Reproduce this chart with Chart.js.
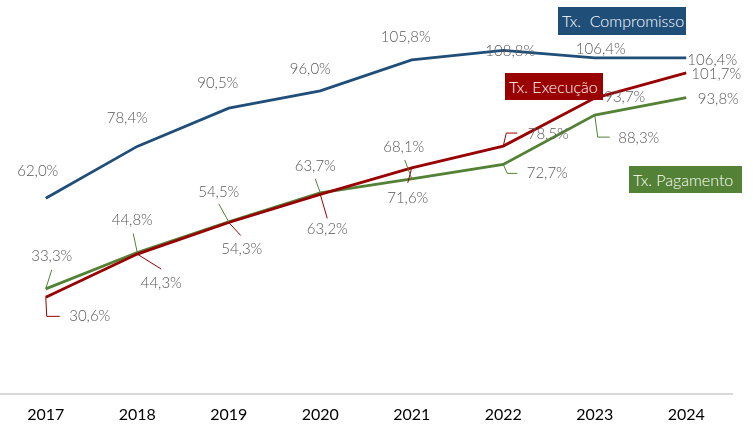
<!DOCTYPE html>
<html>
<head>
<meta charset="utf-8">
<script src="https://cdn.jsdelivr.net/npm/chart.js@4/dist/chart.umd.min.js"></script>
<style>
  html, body { margin: 0; padding: 0; background: #fff; }
  #wrap { position: relative; width: 753px; height: 427px; }
  .tag { position: absolute; color: #fff; font-family: Lato, sans-serif; font-size: 16px; font-weight: 300;
         line-height: 27px; padding: 0 4px; box-sizing: border-box; white-space: pre; }
</style>
</head>
<body>
<div id="wrap">
  <canvas id="chart" width="753" height="427"></canvas>
  <div class="tag" style="left:558px;top:7px;width:128px;height:28px;background:#1F4E79;">Tx.  Compromisso</div>
  <div class="tag" style="left:505px;top:73px;width:98px;height:27px;background:#990000;">Tx. Execução</div>
  <div class="tag" style="left:629px;top:166px;width:113px;height:27px;background:#538135;">Tx. Pagamento</div>
</div>
<script>
const years = ['2017', '2018', '2019', '2020', '2021', '2022', '2023', '2024'];
const compromisso = [62.0, 78.4, 90.5, 96.0, 105.8, 108.8, 106.4, 106.4];
const execucao = [30.6, 44.3, 54.3, 63.2, 71.6, 78.5, 93.7, 101.7];
const pagamento = [33.3, 44.8, 54.5, 63.7, 68.1, 72.7, 88.3, 93.8];

// label placement relative to each point (dx, dy) and optional leader line
const placeComp = [
  { dx: -8, dy: -27 }, { dx: -10, dy: -28 }, { dx: -11, dy: -25 }, { dx: -10, dy: -22 },
  { dx: -6, dy: -23 }, { dx: 7, dy: 1 }, { dx: 6, dy: -9 }, { dx: 26, dy: 2 }
];
const placeExec = [
  { dx: 44, dy: 19, lead: [[0, 0], [1, 19], [14, 19]] },
  { dx: 24, dy: 29, lead: [[0, 0], [24, 15]] },
  { dx: 13, dy: 27, lead: [[0, 0], [12, 13]] },
  { dx: 7, dy: 35, lead: [[0, 0], [7, 24]] },
  { dx: -4, dy: 30, lead: [[0, 0], [-4, 15]] },
  { dx: 45, dy: -12, lead: [[0, 0], [3, -13], [14, -13]] },
  { dx: 30, dy: -1 },
  { dx: 30, dy: 1 }
];
const placePag = [
  { dx: 6, dy: -33, lead: [[0, 0], [6, -19]] },
  { dx: -5, dy: -32, lead: [[0, 0], [-4, -19]] },
  { dx: -10, dy: -30, lead: [[0, 0], [-10, -18]] },
  { dx: -5, dy: -27, lead: [[0, 0], [-5, -14]] },
  { dx: -8, dy: -32, lead: [[0, 0], [-7, -19]] },
  { dx: 44, dy: 9, lead: [[0, 0], [4, 9], [14, 9]] },
  { dx: 44, dy: 23, lead: [[0, 0], [3, 22], [15, 22]] },
  { dx: 32, dy: 1 }
];

const fmt = v => v.toFixed(1).replace('.', ',') + '%';

// Draw the value labels with leader lines
const labelPlugin = {
  id: 'valueLabels',
  afterDatasetsDraw(chart) {
    const ctx = chart.ctx;
    chart.data.datasets.forEach((ds, i) => {
      const meta = chart.getDatasetMeta(i);
      meta.data.forEach((pt, j) => {
        const p = ds.place[j];
        if (p.lead) {
          ctx.save();
          ctx.strokeStyle = ds.borderColor;
          ctx.lineWidth = 1;
          ctx.beginPath();
          p.lead.forEach((q, k) => {
            if (k === 0) ctx.moveTo(pt.x + q[0], pt.y + q[1]);
            else ctx.lineTo(pt.x + q[0], pt.y + q[1]);
          });
          ctx.stroke();
          ctx.restore();
        }
        ctx.save();
        ctx.font = '300 15px Lato, sans-serif';
        ctx.fillStyle = '#595959';
        ctx.textAlign = 'center';
        ctx.textBaseline = 'middle';
        ctx.fillText(fmt(ds.data[j]), pt.x + p.dx, pt.y + p.dy);
        ctx.restore();
      });
    });
  }
};

new Chart(document.getElementById('chart'), {
  type: 'line',
  data: {
    labels: years,
    datasets: [
      { label: 'Tx. Compromisso', data: compromisso, borderColor: '#1F4E79', place: placeComp },
      { label: 'Tx. Execução', data: execucao, borderColor: '#990000', place: placeExec },
      { label: 'Tx. Pagamento', data: pagamento, borderColor: '#538135', place: placePag }
    ]
  },
  options: {
    responsive: false,
    animation: false,
    layout: { padding: { left: 0, right: 21, top: 15, bottom: 5 } },
    elements: {
      line: { borderWidth: 2.8, tension: 0, fill: false },
      point: { radius: 0, hoverRadius: 0 }
    },
    plugins: { legend: { display: false }, tooltip: { enabled: false } },
    scales: {
      x: {
        offset: true,
        grid: { display: false },
        border: { display: true, color: '#D9D9D9', width: 2 },
        ticks: { color: '#000', padding: 3, font: { family: 'Lato', size: 16 } },
        afterFit: s => { s.height = 28; }
      },
      y: { display: false, min: 0, max: 120 }
    }
  },
  plugins: [labelPlugin]
});
</script>
</body>
</html>
